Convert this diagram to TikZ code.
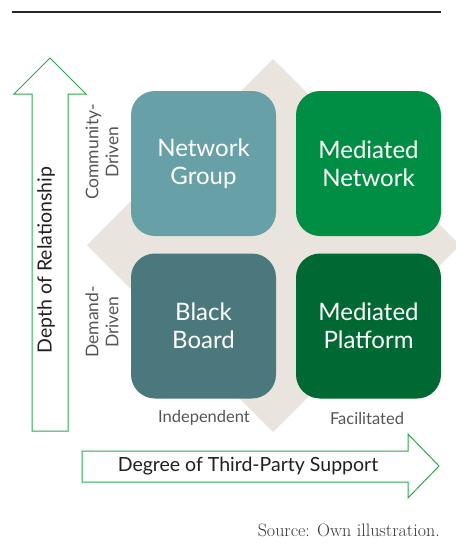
\documentclass[tikz,border=0pt]{standalone}
\usepackage{fontspec}
\setsansfont{Lato}
\definecolor{ngcol}{HTML}{67A0A6}
\definecolor{bbcol}{HTML}{4A787C}
\definecolor{mncol}{HTML}{008E44}
\definecolor{mpcol}{HTML}{006832}
\definecolor{beige}{HTML}{E9E5DE}
\definecolor{arrowgreen}{HTML}{2EA84A}
\definecolor{labelgray}{HTML}{555555}
\definecolor{darktext}{HTML}{231F20}
\begin{document}
\begin{tikzpicture}[x=1pt,y=-1pt,
  quad/.style={rounded corners=24pt, minimum width=145pt, minimum height=145pt,
    inner sep=0pt, text=white, align=center,
    font=\sffamily\fontsize{24}{28}\selectfont},
  sidelabel/.style={text=labelgray, align=center, rotate=90,
    font=\sffamily\fontsize{17.5}{20}\selectfont},
  bottomlabel/.style={text=labelgray, font=\sffamily\fontsize{16.5}{20}\selectfont},
  axislabel/.style={text=darktext, font=\sffamily\fontsize{19.5}{22}\selectfont},
  arrowshape/.style={draw=arrowgreen, line width=1pt, fill=white, line join=miter}
  ]
\useasboundingbox (0,0) rectangle (456,558);
% top rule
\draw[line width=2.3pt, black!85] (12,12) -- (441,12);
% diamond background
\begin{scope}
\clip (0,0) rectangle (456,558);
\fill[beige] (273,59) -- (460,245) -- (273,432) -- (87,245) -- cycle;
\end{scope}
% quadrants
\node[quad, fill=ngcol] (ng) at (203.5,163.5) {Network\\Group};
\node[quad, fill=mncol] (mn) at (368.5,163.5) {Mediated\\Network};
\node[quad, fill=bbcol] (bb) at (203.5,326) {Black\\Board};
\node[quad, fill=mpcol] (mp) at (368.5,326) {Mediated\\Platform};
% side labels
\node[sidelabel] (cd) at (102,152) {Community-\\Driven};
\node[sidelabel] (dd) at (102,322) {Demand-\\Driven};
\node[bottomlabel] (ind) at (204,418) {Independent};
\node[bottomlabel] (fac) at (367,418) {Facilitated};
% vertical arrow
\draw[arrowshape] (32,431) -- (32,94) -- (14,94) -- (50,58) -- (86,94) -- (68,94) -- (68,431) -- cycle;
\node[axislabel, rotate=90] (depth) at (46,260) {Depth of Relationship};
% horizontal arrow
\draw[arrowshape] (82,451) -- (408,451) -- (408,434) -- (439,466) -- (408,498) -- (408,482) -- (82,482) -- cycle;
\node[axislabel] (degree) at (248,466) {Degree of Third-Party Support};
% source
\node[anchor=base east, text=darktext!90, font=\fontsize{18}{20}\selectfont, inner sep=0pt] (src) at (440,536) {Source: Own illustration.};
\end{tikzpicture}
\end{document}
